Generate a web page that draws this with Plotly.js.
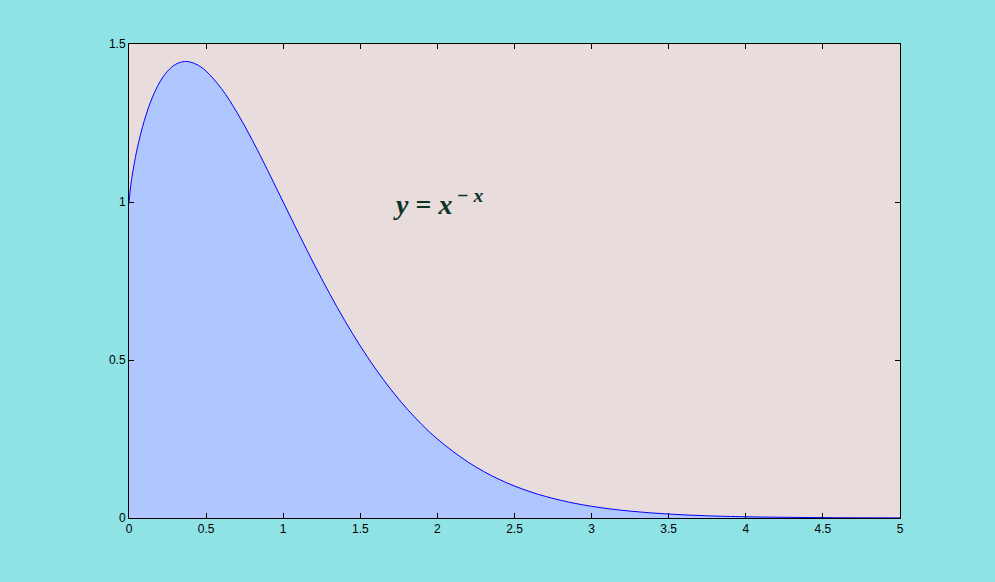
<!DOCTYPE html>
<html>
<head>
<meta charset="utf-8">
<script src="https://cdn.plot.ly/plotly-3.0.1.min.js"></script>
<style>html,body{margin:0;padding:0;background:#8fe3e5;}</style>
</head>
<body>
<div id="chart" style="width:995px;height:582px;"></div>
<script>
const xValues = [0, 0.01, 0.02, 0.05, 0.1, 0.15, 0.2, 0.25, 0.3, 0.35, 0.3679, 0.4, 0.45, 0.5, 0.6, 0.7, 0.8, 0.9, 1.0, 1.1, 1.2, 1.3, 1.4, 1.5, 1.6, 1.7, 1.8, 1.9, 2.0, 2.2, 2.4, 2.6, 2.8, 3.0, 3.25, 3.5, 3.75, 4.0, 4.5, 5.0];
const yValues = [1.0, 1.0471, 1.0814, 1.1616, 1.2589, 1.3292, 1.3797, 1.4142, 1.4351, 1.4440, 1.4447, 1.4427, 1.4324, 1.4142, 1.3586, 1.2836, 1.1954, 1.0995, 1.0, 0.9005, 0.8035, 0.7110, 0.6243, 0.5443, 0.4714, 0.4057, 0.3471, 0.2954, 0.25, 0.1765, 0.1223, 0.0834, 0.0560, 0.0370, 0.0217, 0.0125, 0.0070, 0.0039, 0.00115, 0.00032];
const labelText = '<b><i>y</i> = <i>x</i><sup> − <i>x</i></sup></b>';

const trace = {
  x: xValues, y: yValues, type: 'scatter', mode: 'lines',
  line: {color: '#0000ff', width: 1, shape: 'spline'},
  fill: 'tozeroy', fillcolor: '#b0c6ff', hoverinfo: 'skip'
};
const axisCommon = {
  showgrid: false, zeroline: false, showline: true, linecolor: '#000', linewidth: 1,
  mirror: 'ticks', ticks: 'inside', ticklen: 5, tickcolor: '#000', tickwidth: 1,
  tickfont: {family: 'Liberation Sans, Arial, sans-serif', size: 12, color: '#000'},
  dtick: 0.5
};
const layout = {
  width: 995, height: 582,
  paper_bgcolor: '#8fe3e5', plot_bgcolor: '#e8dcdc',
  margin: {l: 129, r: 95, t: 44, b: 64},
  showlegend: false,
  xaxis: Object.assign({}, axisCommon, {range: [0, 5], tick0: 0}),
  yaxis: Object.assign({}, axisCommon, {range: [0, 1.5], tick0: 0}),
  annotations: [{
    x: 1.7, y: 1.0, xref: 'x', yref: 'y', xanchor: 'left', yanchor: 'middle',
    text: labelText, showarrow: false,
    font: {family: 'Liberation Serif, serif', size: 28, color: '#0b3326'}
  }]
};
Plotly.newPlot('chart', [trace], layout, {displayModeBar: false, staticPlot: true});
</script>
</body>
</html>
